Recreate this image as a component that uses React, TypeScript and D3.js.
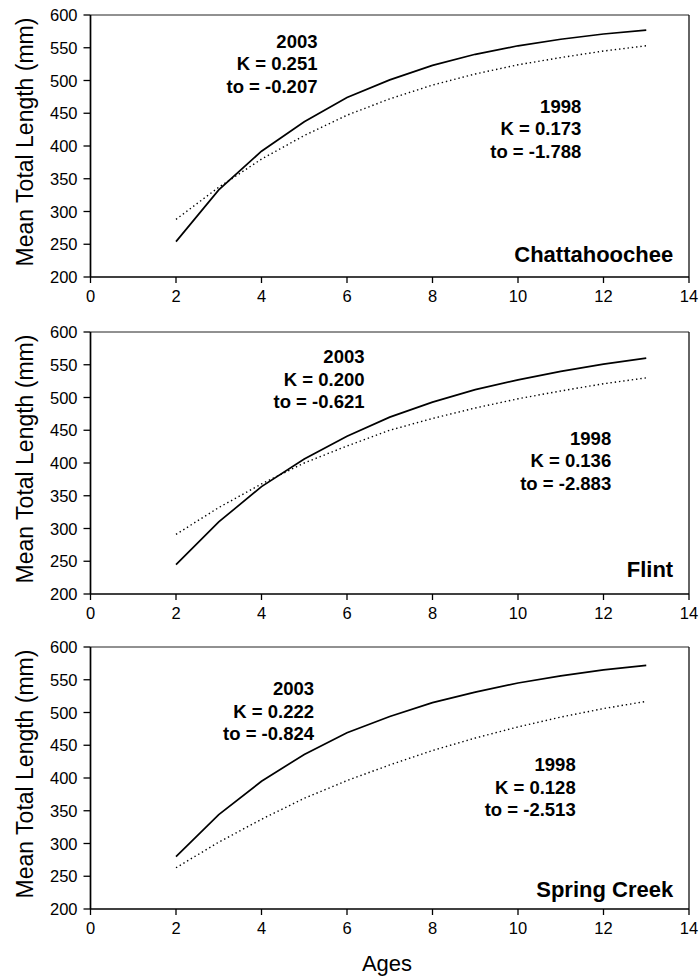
import React from "react";
import * as d3 from "d3";

// ages on the x axis
const ages = [2, 3, 4, 5, 6, 7, 8, 9, 10, 11, 12, 13];

// mean total length (mm)
const chattahoochee2003 = [254, 333, 392, 437, 474, 501, 523, 540, 553, 563, 571, 577];
const chattahoochee1998 = [288, 337, 380, 416, 447, 472, 493, 510, 524, 535, 545, 553];
const flint2003 = [245, 310, 364, 406, 441, 470, 493, 512, 527, 540, 551, 560];
const flint1998 = [291, 332, 368, 400, 426, 450, 468, 484, 498, 510, 521, 530];
const springCreek2003 = [280, 344, 395, 436, 469, 494, 515, 531, 545, 556, 565, 572];
const springCreek1998 = [263, 302, 337, 369, 396, 420, 442, 461, 478, 493, 506, 517];

const rivers = ["Chattahoochee", "Flint", "Spring Creek"];
const k2003 = ["0.251", "0.200", "0.222"];
const t02003 = ["-0.207", "-0.621", "-0.824"];
const k1998 = ["0.173", "0.136", "0.128"];
const t01998 = ["-1.788", "-2.883", "-2.513"];

const xTicks = [0, 2, 4, 6, 8, 10, 12, 14];
const yTicks = [200, 250, 300, 350, 400, 450, 500, 550, 600];

const series2003 = [chattahoochee2003, flint2003, springCreek2003];
const series1998 = [chattahoochee1998, flint1998, springCreek1998];

// where the text blocks sit, in data units (right edge, first line)
const at2003 = [[5.31, 560], [6.41, 562], [5.23, 536]];
const at1998 = [[11.48, 461], [12.18, 438], [11.35, 420]];
const atRiver = [[13.63, 235], [13.63, 238], [13.63, 230]];

const W = 699;
const H = 977;
const left = 90.5;
const right = 689;
const panelTops = [15, 332, 647];
const panelH = 262;
const font = "'Liberation Sans', Arial, sans-serif";

const x = d3.scaleLinear().domain([0, 14]).range([left, right]);

function Panel({ i }: { i: number }) {
  const top = panelTops[i];
  const bottom = top + panelH;
  const y = d3.scaleLinear().domain([200, 600]).range([bottom, top]);
  const line = d3
    .line<number>()
    .x((_, j) => x(ages[j]))
    .y((d) => y(d));

  const block = (pos: number[], lines: string[]) =>
    lines.map((t, j) => (
      <text
        key={j}
        x={x(pos[0])}
        y={y(pos[1]) + j * 22.5}
        textAnchor="end"
        dominantBaseline="central"
        fontFamily={font}
        fontWeight="bold"
        fontSize={18.5}
      >
        {t}
      </text>
    ));

  return (
    <g>
      {/* frame */}
      <line x1={left} x2={right} y1={top} y2={top} stroke="#222" strokeWidth={1} />
      <line x1={right} x2={right} y1={top} y2={bottom} stroke="#111" strokeWidth={1.3} />
      <line x1={left} x2={left} y1={top} y2={bottom} stroke="#000" strokeWidth={1.7} />
      <line x1={left} x2={right} y1={bottom} y2={bottom} stroke="#000" strokeWidth={1.7} />

      {yTicks.map((t) => (
        <g key={t}>
          <line x1={left - 7} x2={left} y1={y(t)} y2={y(t)} stroke="#000" strokeWidth={1.3} />
          <text
            x={left - 13}
            y={y(t)}
            textAnchor="end"
            dominantBaseline="central"
            fontFamily={font}
            fontSize={16.5}
          >
            {t}
          </text>
        </g>
      ))}
      {xTicks.map((t) => (
        <g key={t}>
          <line x1={x(t)} x2={x(t)} y1={bottom} y2={bottom + 6} stroke="#000" strokeWidth={1.3} />
          <text
            x={x(t)}
            y={bottom + 19}
            textAnchor="middle"
            dominantBaseline="central"
            fontFamily={font}
            fontSize={16.5}
          >
            {t}
          </text>
        </g>
      ))}

      <path d={line(series1998[i]) || ""} fill="none" stroke="#000" strokeWidth={1.4} strokeDasharray="1.4 2.9" />
      <path d={line(series2003[i]) || ""} fill="none" stroke="#000" strokeWidth={1.7} />

      {block(at2003[i], ["2003", `K = ${k2003[i]}`, `to = ${t02003[i]}`])}
      {block(at1998[i], ["1998", `K = ${k1998[i]}`, `to = ${t01998[i]}`])}

      <text
        x={x(atRiver[i][0])}
        y={y(atRiver[i][1])}
        textAnchor="end"
        dominantBaseline="central"
        fontFamily={font}
        fontWeight="bold"
        fontSize={22}
      >
        {rivers[i]}
      </text>

      <text
        transform={`translate(25, ${(top + bottom) / 2 - 4}) rotate(-90)`}
        textAnchor="middle"
        dominantBaseline="central"
        fontFamily={font}
        fontSize={23}
      >
        Mean Total Length (mm)
      </text>
    </g>
  );
}

export default function App() {
  return (
    <div style={{ position: "absolute", left: 0, top: 0 }}>
      <svg width={W} height={H} style={{ display: "block", background: "#fff" }}>
        {rivers.map((_, i) => (
          <Panel key={i} i={i} />
        ))}
        <text
          x={387}
          y={963}
          textAnchor="middle"
          dominantBaseline="central"
          fontFamily={font}
          fontSize={22}
        >
          Ages
        </text>
      </svg>
    </div>
  );
}
